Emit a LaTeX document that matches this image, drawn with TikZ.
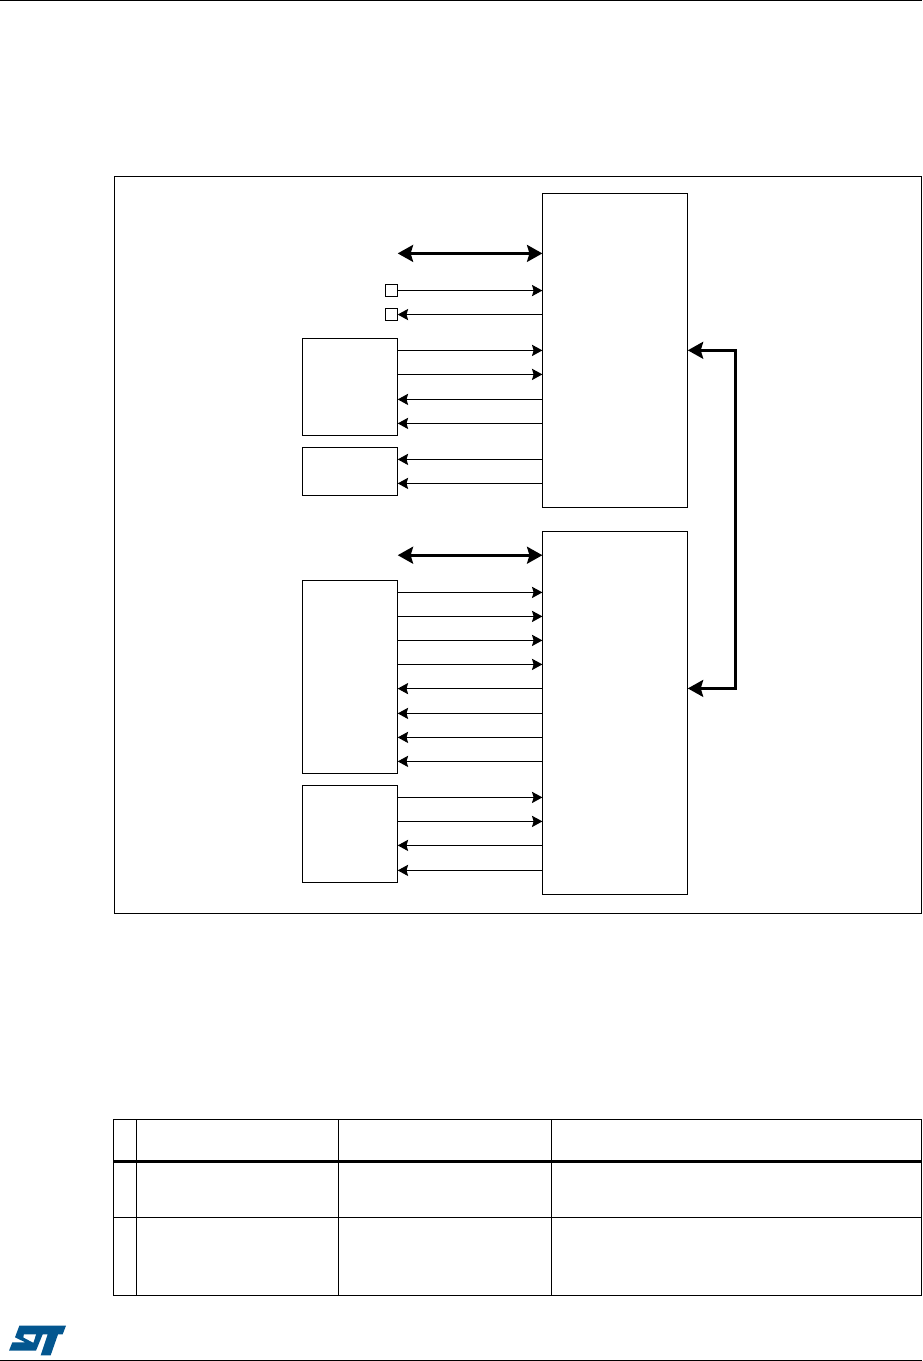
\documentclass[tikz,border=0pt]{standalone}
\usetikzlibrary{arrows.meta}
\definecolor{stblue}{HTML}{03568F}
\tikzset{
  bx/.style={draw=black,line width=0.95pt,fill=white,inner sep=0pt,outer sep=0pt},
  thinline/.style={draw=black,line width=0.85pt},
  thickline/.style={draw=black,line width=2.3pt},
  rtip/.style={-{Stealth[length=7.8pt,width=8.4pt,inset=1.2pt]}},
  ltip/.style={{Stealth[length=7.8pt,width=8.4pt,inset=1.2pt]}-},
  dtip/.style={{Stealth[length=11.5pt,width=12.6pt,inset=1.8pt]}-{Stealth[length=11.5pt,width=12.6pt,inset=1.8pt]}},
  rule/.style={draw=black,line width=1pt},
  heavyrule/.style={draw=black,line width=2.3pt},
}
\newcommand{\bxnode}[5]{\node[bx,minimum width={(#4-#2)*0.75pt},minimum height={(#5-#3)*0.75pt}] (#1) at ({(#2+#4)/2},{(#3+#5)/2}) {};}
\begin{document}
\begin{tikzpicture}[x=0.75pt,y=-0.75pt]
\useasboundingbox (0,0) rectangle (922,1361);
% page rules
\coordinate (tl) at (0,0.7); \coordinate (tr) at (922,0.7);
\coordinate (bl) at (0,1360.3); \coordinate (br) at (922,1360.3);
\draw[rule] (tl) -- (tr);
\draw[rule] (bl) -- (br);
% frame
\bxnode{frame}{114.5}{176.6}{921.3}{913.4}
% blocks
\bxnode{bone}{542.4}{193.4}{687.8}{507.4}
\bxnode{btwo}{542.4}{531.4}{687.8}{894.4}
\bxnode{ba}{302.4}{338.7}{397.7}{435.4}
\bxnode{bb}{302.4}{447.4}{397.7}{495.4}
\bxnode{bc}{302.4}{580.4}{397.7}{773.4}
\bxnode{bd}{302.4}{785.4}{397.7}{882.4}
\bxnode{sa}{385.4}{284.4}{397.7}{296.7}
\bxnode{sb}{385.4}{308.4}{397.7}{320.7}
% free ends of thick arrows
\coordinate (fa) at (397.7,253.4);
\coordinate (fb) at (397.7,555.2);
\coordinate (ca) at (735.6,350.3);
\coordinate (cb) at (735.6,688.4);
% thick arrows
\draw[thickline,dtip] (fa) -- (bone.west |- fa);
\draw[thickline,dtip] (fb) -- (btwo.west |- fb);
\draw[thickline,dtip] (bone.east |- ca) -- (ca) -- (cb) -- (btwo.east |- cb);
% thin arrows
\draw[thinline,rtip] (sa.east) -- (bone.west |- sa.east);
\draw[thinline,ltip] (sb.east) -- (bone.west |- sb.east);
\foreach \y in {350.4,374.4} \draw[thinline,rtip] (ba.east |- 0,\y) -- (bone.west |- 0,\y);
\foreach \y in {399.4,423.4} \draw[thinline,ltip] (ba.east |- 0,\y) -- (bone.west |- 0,\y);
\foreach \y in {459.4,483.4} \draw[thinline,ltip] (bb.east |- 0,\y) -- (bone.west |- 0,\y);
\foreach \y in {592.4,616.4,640.4,664.4} \draw[thinline,rtip] (bc.east |- 0,\y) -- (btwo.west |- 0,\y);
\foreach \y in {688.6,713.4,737.4,761.4} \draw[thinline,ltip] (bc.east |- 0,\y) -- (btwo.west |- 0,\y);
\foreach \y in {797.4,821.4} \draw[thinline,rtip] (bd.east |- 0,\y) -- (btwo.west |- 0,\y);
\foreach \y in {845.4,870.4} \draw[thinline,ltip] (bd.east |- 0,\y) -- (btwo.west |- 0,\y);
% table
\draw[rule] (113.8,1119.4) rectangle (921.4,1295.4);
\draw[rule] (113.8,1217.4) -- (921.4,1217.4);
\draw[heavyrule] (113.8,1161.4) -- (921.4,1161.4);
\foreach \x in {136.6,338.6,551.4} \draw[rule] (\x,1119.4) -- (\x,1295.4);
% logo (traced at 3x, hence the scale and shift)
\begin{scope}[shift={(0,1100)},x=0.25pt,y=-0.25pt]
\fill[stblue] (58,677) -- (198,677) -- (188,703) -- (174,703) -- (152,766) -- (122,766) -- (143,703) -- (128,703) -- (108,752) -- (27,752) -- (37,727) -- (76,727) -- (45,712) -- cycle;
\fill[white] (72,703) -- (108,703) -- (100,728) -- (70,712) -- cycle;
\end{scope}
\end{tikzpicture}
\end{document}
